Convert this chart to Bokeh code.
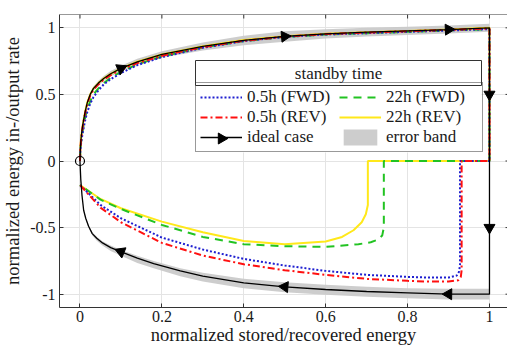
import numpy as np
from bokeh.plotting import figure
from bokeh.models import (Legend, LegendItem, FixedTicker, BoxAnnotation, Label, Range1d, Span)
from bokeh.embed import file_html
from bokeh.resources import INLINE

# ---------------- data ----------------
x_ticks = [0, 0.2, 0.4, 0.6, 0.8, 1.0]
x_tick_labels = ["0", "0.2", "0.4", "0.6", "0.8", "1"]
y_ticks = [-1, -0.5, 0, 0.5, 1]
y_tick_labels = ["-1", "-0.5", "0", "0.5", "1"]

# charging branch (shared x grid)
charge_x = [0, 0.001, 0.003, 0.006, 0.009, 0.013, 0.018, 0.025, 0.033, 0.045, 0.058, 0.075,
            0.1, 0.14, 0.2, 0.3, 0.4, 0.5, 0.6, 0.7, 0.8, 0.9, 1.0]
ideal_up = [0, 0.10, 0.18, 0.255, 0.31, 0.375, 0.44, 0.50, 0.545, 0.585, 0.62, 0.655,
            0.695, 0.745, 0.80, 0.86, 0.905, 0.935, 0.955, 0.967, 0.977, 0.987, 1.0]
band_up_hi = [0, 0.105, 0.188, 0.265, 0.322, 0.389, 0.455, 0.516, 0.562, 0.603, 0.639, 0.675,
              0.715, 0.767, 0.825, 0.89, 0.94, 0.975, 0.99, 1.0, 1.008, 1.018, 1.03]
band_up_lo = [0, 0.095, 0.172, 0.245, 0.298, 0.361, 0.425, 0.484, 0.528, 0.567, 0.601, 0.635,
              0.675, 0.723, 0.775, 0.83, 0.87, 0.895, 0.92, 0.935, 0.947, 0.957, 0.97]
fwd05_up = [0, 0.07, 0.14, 0.20, 0.25, 0.31, 0.37, 0.43, 0.48, 0.53, 0.575, 0.615,
            0.66, 0.72, 0.78, 0.85, 0.90, 0.932, 0.95, 0.96, 0.97, 0.98, 0.99]
rev05_up = [0, 0.095, 0.17, 0.245, 0.30, 0.365, 0.43, 0.49, 0.535, 0.575, 0.61, 0.645,
            0.685, 0.735, 0.79, 0.855, 0.903, 0.934, 0.953, 0.965, 0.975, 0.985, 0.995]
fwd22_up = [0, 0.08, 0.15, 0.215, 0.27, 0.33, 0.39, 0.45, 0.50, 0.545, 0.585, 0.625,
            0.67, 0.725, 0.785, 0.852, 0.90, 0.932, 0.95, 0.96, 0.97, 0.98, 0.99]
rev22_up = [0, 0.10, 0.18, 0.255, 0.31, 0.375, 0.44, 0.50, 0.545, 0.585, 0.62, 0.655,
            0.695, 0.745, 0.80, 0.862, 0.908, 0.937, 0.955, 0.967, 0.977, 0.987, 1.0]

# ideal discharging branch (x from 1 back to 0)
ideal_lo_x = [1.0, 0.9, 0.8, 0.7, 0.6, 0.5, 0.4, 0.3, 0.245, 0.18, 0.14, 0.107, 0.075, 0.055,
              0.041, 0.03, 0.021, 0.014, 0.009, 0.005, 0.002, 0.0]
ideal_lo_y = [-1.0, -1.0, -0.99, -0.98, -0.965, -0.945, -0.915, -0.865, -0.825, -0.77, -0.73,
              -0.69, -0.65, -0.615, -0.58, -0.545, -0.49, -0.43, -0.37, -0.26, -0.14, 0.0]
band_lo_hi = [-0.96, -0.96, -0.955, -0.945, -0.93, -0.91, -0.885, -0.84, -0.805, -0.75, -0.712,
              -0.675, -0.635, -0.602, -0.568, -0.535, -0.48, -0.422, -0.363, -0.255, -0.137, 0.0]
band_lo_lo = [-1.04, -1.04, -1.03, -1.02, -1.005, -0.985, -0.955, -0.905, -0.865, -0.805, -0.765,
              -0.72, -0.675, -0.635, -0.598, -0.56, -0.502, -0.44, -0.378, -0.266, -0.144, 0.0]

# measured discharging branches (x from end of discharge back to 0)
fwd05_dx = [0.928, 0.928, 0.926, 0.92, 0.9, 0.85, 0.8, 0.7, 0.6, 0.5, 0.4, 0.3, 0.2, 0.1, 0.05, 0.0]
fwd05_dy = [0, -0.78, -0.83, -0.86, -0.875, -0.875, -0.87, -0.855, -0.825, -0.785, -0.735, -0.665,
            -0.575, -0.43, -0.33, -0.18]
rev05_dx = [0.932, 0.932, 0.93, 0.924, 0.9, 0.85, 0.8, 0.7, 0.6, 0.5, 0.4, 0.3, 0.2, 0.1, 0.05, 0.0]
rev05_dy = [0, -0.82, -0.87, -0.895, -0.905, -0.905, -0.9, -0.885, -0.855, -0.82, -0.775, -0.71,
            -0.615, -0.46, -0.35, -0.18]
fwd22_dx = [0.742, 0.742, 0.738, 0.728, 0.71, 0.68, 0.6, 0.5, 0.4, 0.3, 0.2, 0.1, 0.05, 0.0]
fwd22_dy = [0, -0.5, -0.56, -0.59, -0.61, -0.625, -0.645, -0.64, -0.625, -0.57, -0.48, -0.36, -0.29, -0.18]
rev22_dx = [0.703, 0.703, 0.698, 0.688, 0.668, 0.64, 0.6, 0.5, 0.4, 0.3, 0.2, 0.1, 0.05, 0.0]
rev22_dy = [0, -0.33, -0.40, -0.46, -0.52, -0.57, -0.605, -0.625, -0.60, -0.535, -0.455, -0.355, -0.285, -0.18]

# arrow positions on the ideal cycle
arrow_up_x = [0.1, 0.5, 0.9]
arrow_vert_y = [0.5, -0.5]
arrow_lo_x = [0.9, 0.5, 0.1]

labels = ["0.5h (FWD)", "0.5h (REV)", "ideal case", "22h (FWD)", "22h (REV)", "error band"]
legend_title = "standby time"
x_label = "normalized stored/recovered energy"
y_label = "normalized energy in-/output rate"

# ---------------- styling ----------------
FONT = "Liberation Serif"
TXT = "#1a1a1a"
C_BLUE = "#1f1fd0"
C_RED = "#ff1010"
C_GREEN = "#22c322"
C_YELLOW = "#ffe81a"
C_BAND = "#c8c8c8"
C_AX = "#333333"

W, H = 507, 349
ML, MR, MT, MB = 59, 0, 14, 42
x0, x1 = -0.05, 1.044
y0, y1 = -1.1, 1.1
sx = (W - ML - MR) / (x1 - x0)
sy = (H - MT - MB) / (y1 - y0)

def px_to_data(px, py):
    return x0 + (px - ML) / sx, y1 - (py - MT) / sy

p = figure(width=W, height=H, output_backend="svg", toolbar_location=None,
           x_range=Range1d(x0, x1), y_range=Range1d(y0, y1),
           min_border_left=ML, min_border_right=MR, min_border_top=MT, min_border_bottom=MB,
           background_fill_color="white", border_fill_color="white")
p.outline_line_color = None
p.grid.grid_line_color = "#e4e4e4"
p.grid.grid_line_width = 1
p.xgrid.ticker = FixedTicker(ticks=x_ticks)
p.ygrid.ticker = FixedTicker(ticks=y_ticks)

for ax, ticks, labs in ((p.xaxis[0], x_ticks, x_tick_labels), (p.yaxis[0], y_ticks, y_tick_labels)):
    ax.ticker = FixedTicker(ticks=ticks)
    ax.major_label_overrides = {t: l for t, l in zip(ticks, labs)}
    ax.major_tick_in = 4
    ax.major_tick_out = 0
    ax.minor_tick_line_color = None
    ax.major_label_text_font = FONT
    ax.major_label_text_font_size = "16px"
    ax.major_label_text_color = TXT
    ax.axis_label_text_font = FONT
    ax.axis_label_text_font_size = "18.5px"
    ax.axis_label_text_font_style = "normal"
    ax.axis_label_text_color = TXT
    ax.axis_line_color = C_AX
    ax.major_tick_line_color = C_AX
p.xaxis.axis_label = x_label
p.yaxis.axis_label = y_label
p.xaxis.major_label_standoff = 3
p.yaxis.major_label_standoff = 4
p.xaxis.axis_label_standoff = 0
p.yaxis.axis_label_standoff = 4

# legend geometry (pixels)
LEG_LEFT, LEG_RIGHT, LEG_TOP, LEG_MID, LEG_BOTTOM = 195, 481, 60, 85, 152
LEG_PAD, ROW_H, GLYPH_W = 4, 20, 42

# white background behind the whole legend (under the glyphs, above the grid)
bx0, by_top = px_to_data(LEG_LEFT, LEG_TOP)
bx1, by_bot = px_to_data(LEG_RIGHT, LEG_BOTTOM)
bg = BoxAnnotation(left=bx0, right=bx1, top=by_top, bottom=by_bot,
                   fill_color="white", fill_alpha=1.0, line_alpha=0, level="underlay")
p.add_layout(bg)

# top border and inward ticks on top / right
p.add_layout(Span(location=y1, dimension="width", line_color=C_AX, line_width=1))
p.segment(x0=x_ticks, x1=x_ticks, y0=[y1] * len(x_ticks), y1=[y1 - 4 / sy] * len(x_ticks),
          line_color=C_AX, line_width=1)
p.segment(x0=[x1 - 2 / sx] * len(y_ticks), x1=[x1] * len(y_ticks), y0=y_ticks, y1=y_ticks,
          line_color=C_AX, line_width=1)

# error band
band1 = p.varea(x=charge_x, y1=band_up_lo, y2=band_up_hi, fill_color=C_BAND, fill_alpha=0.9)
p.varea(x=ideal_lo_x, y1=band_lo_lo, y2=band_lo_hi, fill_color=C_BAND, fill_alpha=0.9)

def cycle(up, dx, dy):
    xs = list(charge_x) + [1.0] + list(dx)
    ys = list(up) + [0.0] + list(dy)
    return xs, ys

xs, ys = cycle(rev22_up, rev22_dx, rev22_dy)
r_rev22 = p.line(xs, ys, line_color=C_YELLOW, line_width=2)
xs, ys = cycle(fwd22_up, fwd22_dx, fwd22_dy)
r_fwd22 = p.line(xs, ys, line_color=C_GREEN, line_width=2, line_dash="8 6")
xs, ys = cycle(fwd05_up, fwd05_dx, fwd05_dy)
r_fwd05 = p.line(xs, ys, line_color=C_BLUE, line_width=2, line_dash="2 2")
xs, ys = cycle(rev05_up, rev05_dx, rev05_dy)
r_rev05 = p.line(xs, ys, line_color=C_RED, line_width=2, line_dash="7 3 2 3")

# ideal cycle
ix = list(charge_x) + list(ideal_lo_x)
iy = list(ideal_up) + list(ideal_lo_y)
r_ideal = p.line(ix, iy, line_color="black", line_width=1.3)

# arrows along the ideal cycle
lx_inc = np.array(ideal_lo_x[::-1])
ly_inc = np.array(ideal_lo_y[::-1])
ax_, ay_, aa_ = [], [], []
d = 0.02
for xv in arrow_up_x:
    yv = np.interp(xv, charge_x, ideal_up)
    dyv = np.interp(xv + d, charge_x, ideal_up) - np.interp(xv - d, charge_x, ideal_up)
    ax_.append(xv); ay_.append(yv); aa_.append(np.arctan2(dyv * sy, 2 * d * sx) - np.pi / 2)
for yv in arrow_vert_y:
    ax_.append(1.0); ay_.append(yv); aa_.append(-np.pi)
for xv in arrow_lo_x:
    yv = np.interp(xv, lx_inc, ly_inc)
    dyv = np.interp(xv - d, lx_inc, ly_inc) - np.interp(xv + d, lx_inc, ly_inc)
    ax_.append(xv); ay_.append(yv); aa_.append(np.arctan2(dyv * sy, -2 * d * sx) - np.pi / 2)
p.scatter(x=ax_, y=ay_, angle=aa_, marker="triangle", size=11,
          fill_color="black", line_color="black")
p.scatter(x=[0], y=[0], marker="circle", size=9, fill_color=None, line_color="black", line_width=1.2)

# arrow head on the "ideal case" legend glyph
lgx, lgy = px_to_data(LEG_LEFT + LEG_PAD + GLYPH_W / 2 + 1, LEG_BOTTOM - LEG_PAD - ROW_H / 2)
p.scatter(x=[lgx], y=[lgy], angle=-np.pi / 2, marker="triangle", size=11,
          fill_color="black", line_color="black")

# legend (transparent background; white box is underneath)
items = [
    LegendItem(label=labels[0], renderers=[r_fwd05]),
    LegendItem(label=labels[1], renderers=[r_rev05]),
    LegendItem(label=labels[2], renderers=[r_ideal]),
    LegendItem(label=labels[3], renderers=[r_fwd22]),
    LegendItem(label=labels[4], renderers=[r_rev22]),
    LegendItem(label=labels[5], renderers=[band1]),
]
leg = Legend(items=items, ncols=2, location=(LEG_LEFT - ML, H - MB - LEG_BOTTOM),
             glyph_width=GLYPH_W, glyph_height=ROW_H, label_height=ROW_H, label_width=92,
             label_standoff=5, spacing=0, padding=LEG_PAD,
             label_text_font=FONT, label_text_font_size="17px", label_text_color=TXT,
             border_line_color=C_AX, border_line_width=1,
             background_fill_alpha=0.0)
p.add_layout(leg, "center")

# legend header
hx0, hy_top = px_to_data(LEG_LEFT, LEG_TOP)
hx1, hy_bot = px_to_data(LEG_RIGHT, LEG_MID)
p.add_layout(BoxAnnotation(left=hx0, right=hx1, top=hy_top, bottom=hy_bot,
                           fill_color="white", fill_alpha=1.0,
                           line_color=C_AX, line_width=1, line_alpha=1.0))
p.add_layout(Label(x=(hx0 + hx1) / 2, y=(hy_top + hy_bot) / 2, text=legend_title,
                   text_align="center", text_baseline="middle",
                   text_font=FONT, text_font_size="17px", text_color=TXT))

open("out.html", "w").write(file_html(p, INLINE))
